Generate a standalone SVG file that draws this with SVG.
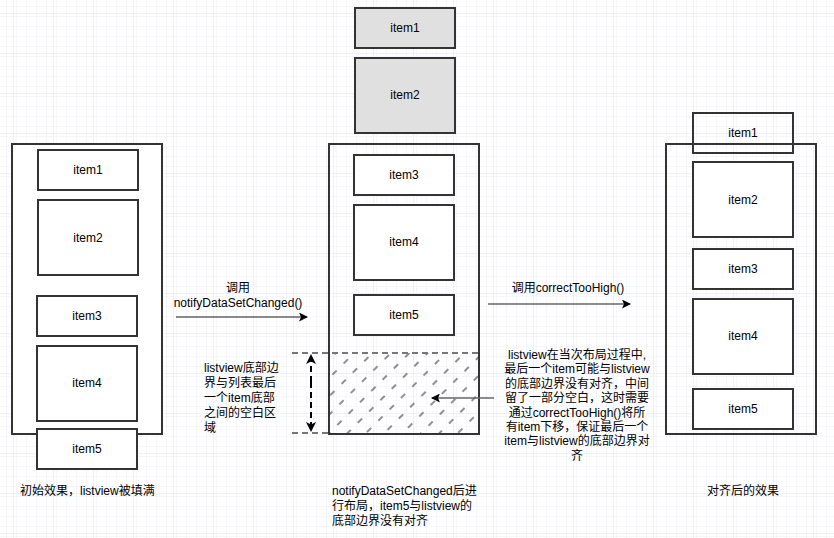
<svg xmlns="http://www.w3.org/2000/svg" width="834" height="538" viewBox="0 0 834 538">
<defs>
<style>
text{font-family:"Liberation Sans","Noto Sans CJK SC",sans-serif;font-size:12px;fill:#000}
.c{text-anchor:middle}
.box{fill:#fff;stroke:#333;stroke-width:2}
.gbox{fill:#e0e0e0;stroke:#333;stroke-width:2}
.arr{stroke:#666;stroke-width:1.5;fill:none}
.dash{stroke:#777;stroke-width:2;stroke-dasharray:6 4;fill:none}
</style>
<pattern id="gridMinor" width="10" height="10" patternUnits="userSpaceOnUse" x="3" y="3">
<path d="M0 0H10M0 0V10" stroke="#eeeefc" stroke-width="1" fill="none"/>
</pattern>
<pattern id="grid" width="40" height="40" patternUnits="userSpaceOnUse" x="13" y="13">
<rect width="40" height="40" fill="url(#gridMinor)"/>
<path d="M0 0H40M0 0V40" stroke="#e2e2f8" stroke-width="1" fill="none"/>
</pattern>
<pattern id="hatch" width="16" height="13" patternUnits="userSpaceOnUse" patternTransform="rotate(-45)">
<line x1="2" y1="6" x2="8" y2="6" stroke="#222" stroke-width="1"/>
</pattern>
<marker id="ah" markerWidth="9" markerHeight="9" refX="8" refY="4.5" orient="auto" markerUnits="userSpaceOnUse">
<path d="M0 0L9 4.5L0 9L2 4.5Z" fill="#000"/>
</marker>
<marker id="ahd" markerWidth="10" markerHeight="10" refX="9" refY="5" orient="auto" markerUnits="userSpaceOnUse">
<path d="M0 0L10 5L0 10L2.5 5Z" fill="#000"/>
</marker>
</defs>
<rect width="834" height="538" fill="#fff"/>
<rect width="834" height="538" fill="url(#grid)"/>

<g id="left-list">
<rect class="box" x="12" y="144" width="150" height="290"/>
<rect class="box" x="38" y="150" width="100" height="40"/><text class="c" x="88" y="174">item1</text>
<rect class="box" x="38" y="200" width="100" height="75"/><text class="c" x="88" y="242">item2</text>
<rect class="box" x="37" y="296" width="100" height="40"/><text class="c" x="87" y="320">item3</text>
<rect class="box" x="37" y="346" width="100" height="75"/><text class="c" x="87" y="387">item4</text>
<rect class="box" x="37" y="429" width="100" height="40"/><text class="c" x="87" y="453">item5</text>
</g>

<g id="middle-list">
<rect class="gbox" x="355" y="8" width="100" height="40"/><text class="c" x="405" y="32">item1</text>
<rect class="gbox" x="355" y="58" width="100" height="75"/><text class="c" x="405" y="99">item2</text>
<rect x="329" y="353" width="150" height="80" fill="url(#hatch)"/>
<rect class="box" x="329" y="144" width="150" height="290" style="fill:none"/>
<rect class="box" x="354" y="155" width="100" height="40"/><text class="c" x="404" y="179">item3</text>
<rect class="box" x="354" y="205" width="100" height="75"/><text class="c" x="404" y="246">item4</text>
<rect class="box" x="354" y="295" width="100" height="40"/><text class="c" x="404" y="319">item5</text>
</g>

<g id="right-list">
<rect class="box" x="666" y="144" width="150" height="290" style="fill:none"/>
<rect class="box" x="693" y="113" width="100" height="40" style="fill:none"/><text class="c" x="743" y="137">item1</text>
<rect class="box" x="693" y="162" width="100" height="75"/><text class="c" x="743" y="204">item2</text>
<rect class="box" x="693" y="249" width="100" height="40"/><text class="c" x="743" y="273">item3</text>
<rect class="box" x="693" y="299" width="100" height="75"/><text class="c" x="743" y="340">item4</text>
<rect class="box" x="693" y="389" width="100" height="40"/><text class="c" x="743" y="413">item5</text>
</g>

<g id="connectors">
<line class="arr" x1="176" y1="317" x2="307" y2="317" marker-end="url(#ah)"/>
<line class="arr" x1="488" y1="304" x2="630" y2="304" marker-end="url(#ah)"/>
<line class="arr" x1="494" y1="398" x2="432" y2="398" marker-end="url(#ah)"/>
<line class="dash" x1="292" y1="353" x2="479" y2="353"/>
<line class="dash" x1="292" y1="433" x2="329" y2="433"/>
<line x1="311" y1="382" x2="311" y2="355" stroke="#000" stroke-width="2" stroke-dasharray="6 4" marker-end="url(#ahd)"/>
<line x1="311" y1="382" x2="311" y2="431" stroke="#000" stroke-width="2" stroke-dasharray="6 4" marker-end="url(#ahd)"/>
</g>

<g id="labels">
<text class="c" x="238" y="292">调用</text>
<text class="c" x="238" y="307">notifyDataSetChanged()</text>
<text class="c" x="568" y="292">调用correctTooHigh()</text>
<text x="204" y="372">listview底部边</text>
<text x="204" y="387">界与列表最后</text>
<text x="204" y="402">一个item底部</text>
<text x="204" y="417">之间的空白区</text>
<text x="204" y="432">域</text>
<text class="c" x="577" y="359">listview在当次布局过程中,</text>
<text class="c" x="577" y="373.4">最后一个item可能与listview</text>
<text class="c" x="577" y="387.8">的底部边界没有对齐，中间</text>
<text class="c" x="577" y="402.2">留了一部分空白，这时需要</text>
<text class="c" x="577" y="416.6">通过correctTooHigh()将所</text>
<text class="c" x="577" y="431">有item下移，保证最后一个</text>
<text class="c" x="577" y="445.4">item与listview的底部边界对</text>
<text class="c" x="577" y="459.8">齐</text>
<text x="20" y="495">初始效果，listview被填满</text>
<text x="332" y="495">notifyDataSetChanged后进</text>
<text x="332" y="510">行布局，item5与listview的</text>
<text x="332" y="525">底部边界没有对齐</text>
<text class="c" x="743" y="495">对齐后的效果</text>
</g>
</svg>
